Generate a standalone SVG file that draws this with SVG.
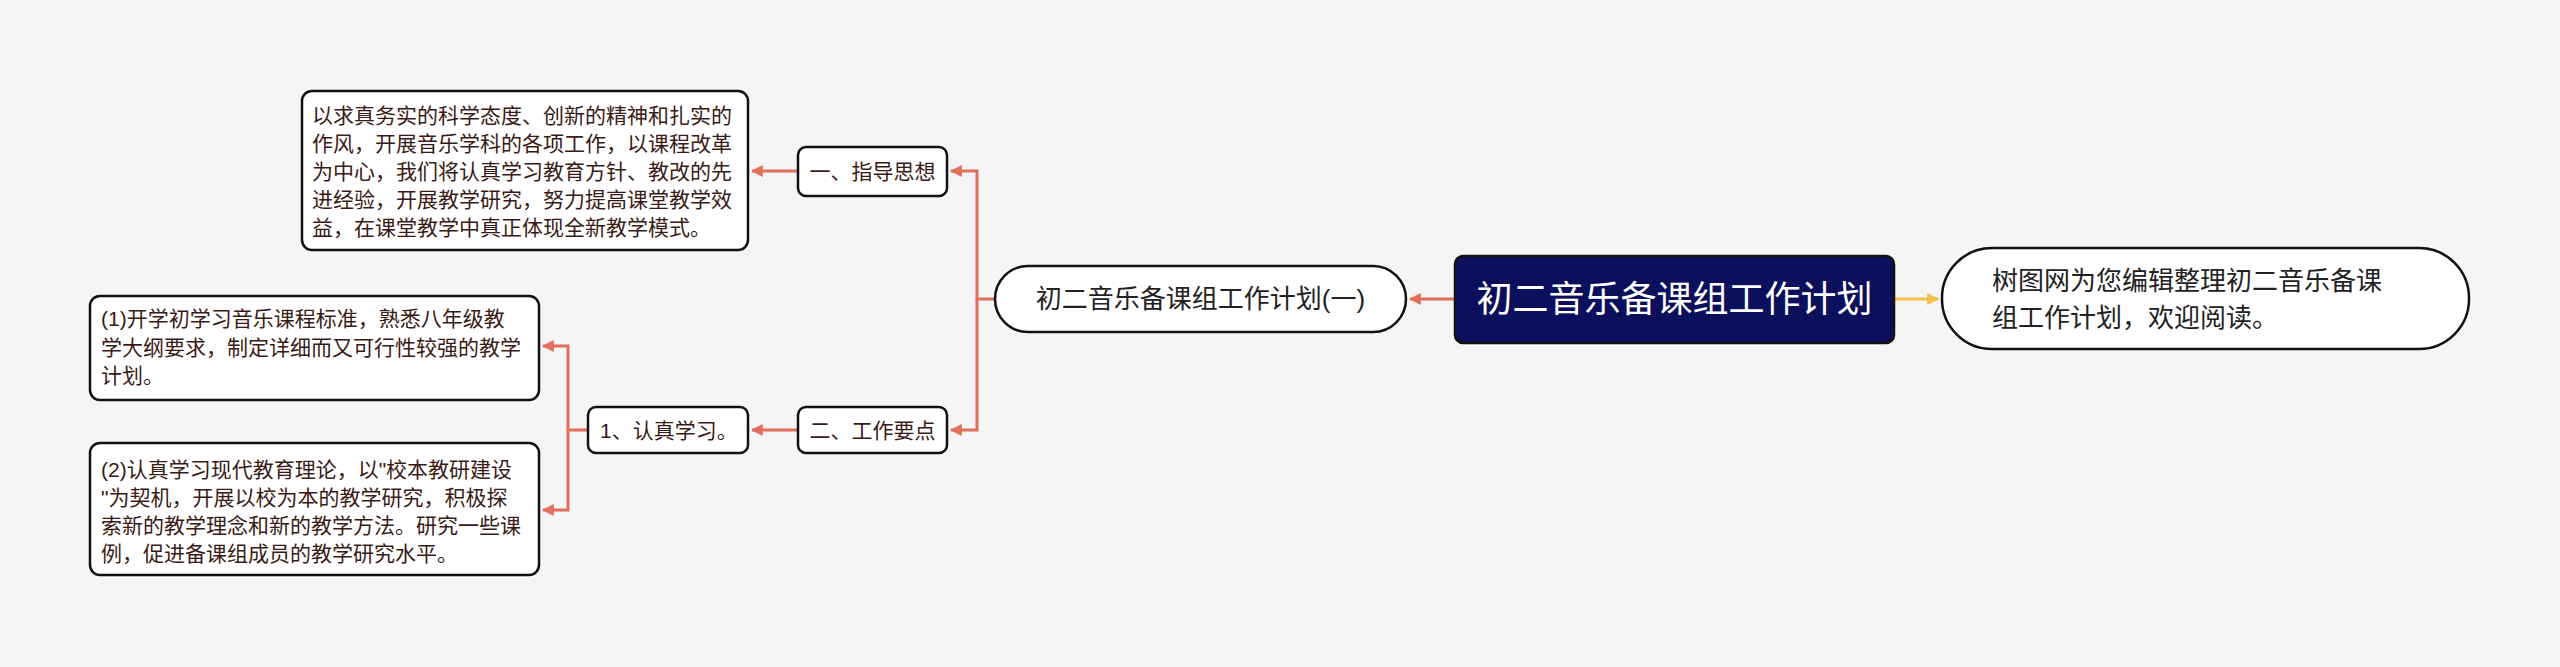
<svg xmlns="http://www.w3.org/2000/svg" width="2560" height="667" viewBox="0 0 2560 667">
<style>
text{font-family:"Liberation Sans","Noto Sans CJK SC",sans-serif;}
.box{fill:#fff;stroke:#111;stroke-width:2.5}
.t{font-size:21px;fill:#3a1a14}
.ln{fill:none;stroke:#e0705a;stroke-width:3}
</style>
<defs>
<marker id="a" viewBox="0 0 10 10" refX="9" refY="5" markerWidth="4" markerHeight="4" orient="auto"><path d="M0,0L10,5L0,10z" fill="#e0705a"/></marker>
<marker id="y" viewBox="0 0 10 10" refX="9" refY="5" markerWidth="4" markerHeight="4" orient="auto"><path d="M0,0L10,5L0,10z" fill="#f5c04a"/></marker>
</defs>
<rect width="2560" height="667" fill="#f5f5f5"/>
<g id="connectors">
<path class="ln" d="M1455,299H1410" marker-end="url(#a)"/>
<path d="M1894,299H1938" fill="none" stroke="#f5c04a" stroke-width="3" marker-end="url(#y)"/>
<path class="ln" d="M995,299H977V171H951" marker-end="url(#a)"/>
<path class="ln" d="M977,299V430H951" marker-end="url(#a)"/>
<path class="ln" d="M798,171H752" marker-end="url(#a)"/>
<path class="ln" d="M798,430H752" marker-end="url(#a)"/>
<path class="ln" d="M588,430H568V346H543" marker-end="url(#a)"/>
<path class="ln" d="M568,430V510H543" marker-end="url(#a)"/>
</g>
<g id="root"><rect x="1455" y="256" width="439" height="87" rx="8" fill="#0b0f5c" stroke="#111" stroke-width="2.5"/><text x="1674.5" y="312" font-size="36" fill="#fff" text-anchor="middle">初二音乐备课组工作计划</text></g>
<g id="intro"><rect class="box" x="1942" y="248" width="527" height="101" rx="50"/><text x="1992" y="290" font-size="26" fill="#222">树图网为您编辑整理初二音乐备课</text><text x="1992" y="327" font-size="26" fill="#222">组工作计划，欢迎阅读。</text></g>
<g id="plan1"><rect class="box" x="995" y="266" width="411" height="66" rx="33"/><text x="1200.5" y="308" font-size="26" fill="#222" text-anchor="middle">初二音乐备课组工作计划(一)</text></g>
<g id="n1"><rect class="box" x="798" y="147" width="149" height="49" rx="8"/><text class="t" x="872.5" y="179" text-anchor="middle">一、指导思想</text></g>
<g id="n2"><rect class="box" x="798" y="407" width="149" height="46" rx="8"/><text class="t" x="872.5" y="438" text-anchor="middle">二、工作要点</text></g>
<g id="n3"><rect class="box" x="588" y="407" width="160" height="46" rx="8"/><text class="t" x="600" y="438">1、认真学习。</text></g>
<g id="g1"><rect class="box" x="302" y="91" width="446" height="159" rx="10"/>
<text class="t" x="312" y="123">以求真务实的科学态度、创新的精神和扎实的</text>
<text class="t" x="312" y="151">作风，开展音乐学科的各项工作，以课程改革</text>
<text class="t" x="312" y="179">为中心，我们将认真学习教育方针、教改的先</text>
<text class="t" x="312" y="207">进经验，开展教学研究，努力提高课堂教学效</text>
<text class="t" x="312" y="235">益，在课堂教学中真正体现全新教学模式。</text></g>
<g id="s1"><rect class="box" x="90" y="296" width="449" height="104" rx="10"/>
<text class="t" x="101" y="326">(1)开学初学习音乐课程标准，熟悉八年级教</text>
<text class="t" x="101" y="355">学大纲要求，制定详细而又可行性较强的教学</text>
<text class="t" x="101" y="383">计划。</text></g>
<g id="s2"><rect class="box" x="90" y="443" width="449" height="132" rx="10"/>
<text class="t" x="101" y="477">(2)认真学习现代教育理论，以"校本教研建设</text>
<text class="t" x="101" y="505">"为契机，开展以校为本的教学研究，积极探</text>
<text class="t" x="101" y="533">索新的教学理念和新的教学方法。研究一些课</text>
<text class="t" x="101" y="561">例，促进备课组成员的教学研究水平。</text></g>
</svg>
